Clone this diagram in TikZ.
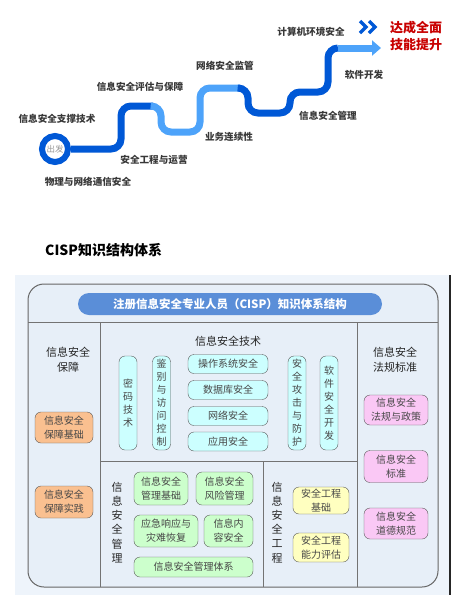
\documentclass[tikz,border=0pt]{standalone}
\usepackage{fontspec}
\setmainfont{Noto Sans CJK SC}
\usetikzlibrary{arrows.meta}
\definecolor{stairdark}{RGB}{0,88,214}
\definecolor{stairlight}{RGB}{77,163,250}
\definecolor{goalred}{RGB}{200,0,0}
\definecolor{pagebg}{RGB}{238,244,251}
\definecolor{framebg}{RGB}{231,239,248}
\definecolor{headblue}{RGB}{90,142,216}
\definecolor{safeorange}{RGB}{250,192,144}
\definecolor{techcyan}{RGB}{204,255,255}
\definecolor{lawpink}{RGB}{250,200,245}
\definecolor{mgmtgreen}{RGB}{204,255,204}
\definecolor{engyellow}{RGB}{255,255,192}

\begin{document}
\begin{tikzpicture}[x=1pt,y=-1pt,
  stairline/.style={line width=7pt,rounded corners=10pt},
  tag/.style={font=\bfseries\fontsize{9.6}{11}\selectfont,text=black!78,inner sep=0pt},
  cellbox/.style={draw=black!65,rounded corners=6pt,align=center,inner sep=0pt,font=\fontsize{10}{14}\selectfont,text=black!72},
  vbox/.style={cellbox,fill=techcyan,font=\fontsize{10}{13}\selectfont,minimum width=18pt,minimum height=94pt},
  hbox/.style={cellbox,fill=techcyan,minimum width=80pt,minimum height=19pt},
  coltitle/.style={align=center,font=\fontsize{11}{15}\selectfont,text=black!85,inner sep=0pt},
  vtitle/.style={align=center,font=\fontsize{11}{14.2}\selectfont,text=black!85,inner sep=0pt},
  gridline/.style={draw=black!55,line width=0.9pt}]
\useasboundingbox (0,0) rectangle (466,606);

% roadmap
\node[circle,draw=stairdark,line width=6pt,minimum size=26pt,inner sep=0pt,text=black!40,font=\fontsize{8.5}{10}\selectfont] (start) at (55,149) {出发};
\coordinate (turnA) at (153,106);
\coordinate (turnB) at (240,88);
\coordinate (turnC) at (338,48);
\coordinate (finish) at (381,48);
\draw[stairline,stairdark] (start.east) -- (121,149) -- (121,106) -- (turnA);
\draw[stairline,stairlight] (turnA) -- (161,106) -- (161,132) -- (200,132) -- (200,88) -- (turnB);
\draw[stairline,stairdark] (turnB) -- (248,88) -- (248,113) -- (290,113) -- (290,92) -- (328,92) -- (328,48) -- (turnC);
\draw[stairline,stairlight,-{Triangle[length=9pt,width=15pt]}] (turnC) -- (finish);

\node[tag] (supportlbl) at (57,119) {信息安全支撑技术};
\node[tag] (physlbl) at (88,182) {物理与网络通信安全};
\node[tag] (opslbl) at (154,160) {安全工程与运营};
\node[tag] (evallbl) at (140,87) {信息安全评估与保障};
\node[tag] (bcplbl) at (229,137) {业务连续性};
\node[tag] (monlbl) at (225,66) {网络安全监管};
\node[tag] (mgmtlbl) at (328,116) {信息安全管理};
\node[tag] (swlbl) at (364,75) {软件开发};
\node[tag] (envlbl) at (311,32) {计算机环境安全};
\draw[stairdark,line width=3.4pt] (360,21) -- (366,27) -- (360,33);
\draw[stairdark,line width=3.4pt] (369,21) -- (375,27) -- (369,33);
\node[align=center,text=goalred,font=\bfseries\fontsize{13}{17}\selectfont,inner sep=0pt] (goal) at (416,36) {达成全面\\技能提升};

\node[anchor=west,inner sep=0pt,font=\bfseries\fontsize{14}{16}\selectfont] (cisp) at (45,250) {CISP知识结构体系};

% knowledge chart
\fill[pagebg] (15,275) rectangle (450,595);
\draw[black!85,line width=1.2pt] (450,275) -- (450,595);
\draw[fill=framebg,draw=black!60,line width=1pt,rounded corners=16pt] (28,284) rectangle (438,587);
\node[fill=headblue,rounded corners=11pt,minimum width=304pt,minimum height=22pt,inner sep=0pt,text=white,font=\bfseries\fontsize{11.5}{13}\selectfont] (head) at (230,304) {注册信息安全专业人员（CISP）知识体系结构};

\draw[gridline] (28,322) -- (438,322);
\draw[gridline] (100,322) -- (100,587);
\draw[gridline] (357,322) -- (357,587);
\draw[gridline] (100,461) -- (357,461);
\draw[gridline] (263,461) -- (263,587);

% assurance
\node[coltitle] (safetitle) at (68,360) {信息安全\\保障};
\node[cellbox,fill=safeorange,minimum width=58pt,minimum height=31pt] (safebase) at (64,427.5) {信息安全\\保障基础};
\node[cellbox,fill=safeorange,minimum width=58pt,minimum height=32pt] (safepractice) at (64,502) {信息安全\\保障实践};

% technology
\node[coltitle] (techtitle) at (228,341) {信息安全技术};
\node[vbox] (crypto) at (128,403) {密\\码\\技\\术};
\node[vbox] (authctl) at (161.5,403) {鉴\\别\\与\\访\\问\\控\\制};
\node[hbox] (ossec) at (228,364) {操作系统安全};
\node[hbox] (dbsec) at (228,390) {数据库安全};
\node[hbox] (netsec) at (228,416) {网络安全};
\node[hbox] (appsec) at (228,441.5) {应用安全};
\node[vbox] (attack) at (297,403) {安\\全\\攻\\击\\与\\防\\护};
\node[vbox] (swdev) at (329,403) {软\\件\\安\\全\\开\\发};

% law and standards
\node[coltitle] (lawtitle) at (395,360) {信息安全\\法规标准};
\node[cellbox,fill=lawpink,minimum width=64pt,minimum height=30pt] (law) at (396,410) {信息安全\\法规与政策};
\node[cellbox,fill=lawpink,minimum width=64pt,minimum height=32pt] (std) at (396,466.5) {信息安全\\标准};
\node[cellbox,fill=lawpink,minimum width=64pt,minimum height=31pt] (ethics) at (396,523.5) {信息安全\\道德规范};

% management
\node[vtitle] (mgmttitle) at (117,522.5) {信\\息\\安\\全\\管\\理};
\node[cellbox,fill=mgmtgreen,minimum width=54pt,minimum height=33pt] (mgmtbase) at (161,488.5) {信息安全\\管理基础};
\node[cellbox,fill=mgmtgreen,minimum width=57pt,minimum height=33pt] (risk) at (224.5,488.5) {信息安全\\风险管理};
\node[cellbox,fill=mgmtgreen,minimum width=64pt,minimum height=32pt] (incident) at (166,531) {应急响应与\\灾难恢复};
\node[cellbox,fill=mgmtgreen,minimum width=49pt,minimum height=32pt] (content) at (228.5,531) {信息内\\容安全};
\node[cellbox,fill=mgmtgreen,minimum width=119pt,minimum height=20pt] (isms) at (193.5,567) {信息安全管理体系};

% engineering
\node[vtitle] (engtitle) at (277,522.5) {信\\息\\安\\全\\工\\程};
\node[cellbox,fill=engyellow,minimum width=56pt,minimum height=27pt] (engbase) at (321,500.5) {安全工程\\基础};
\node[cellbox,fill=engyellow,minimum width=56pt,minimum height=29pt] (engeval) at (321,547.5) {安全工程\\能力评估};
\end{tikzpicture}
\end{document}
